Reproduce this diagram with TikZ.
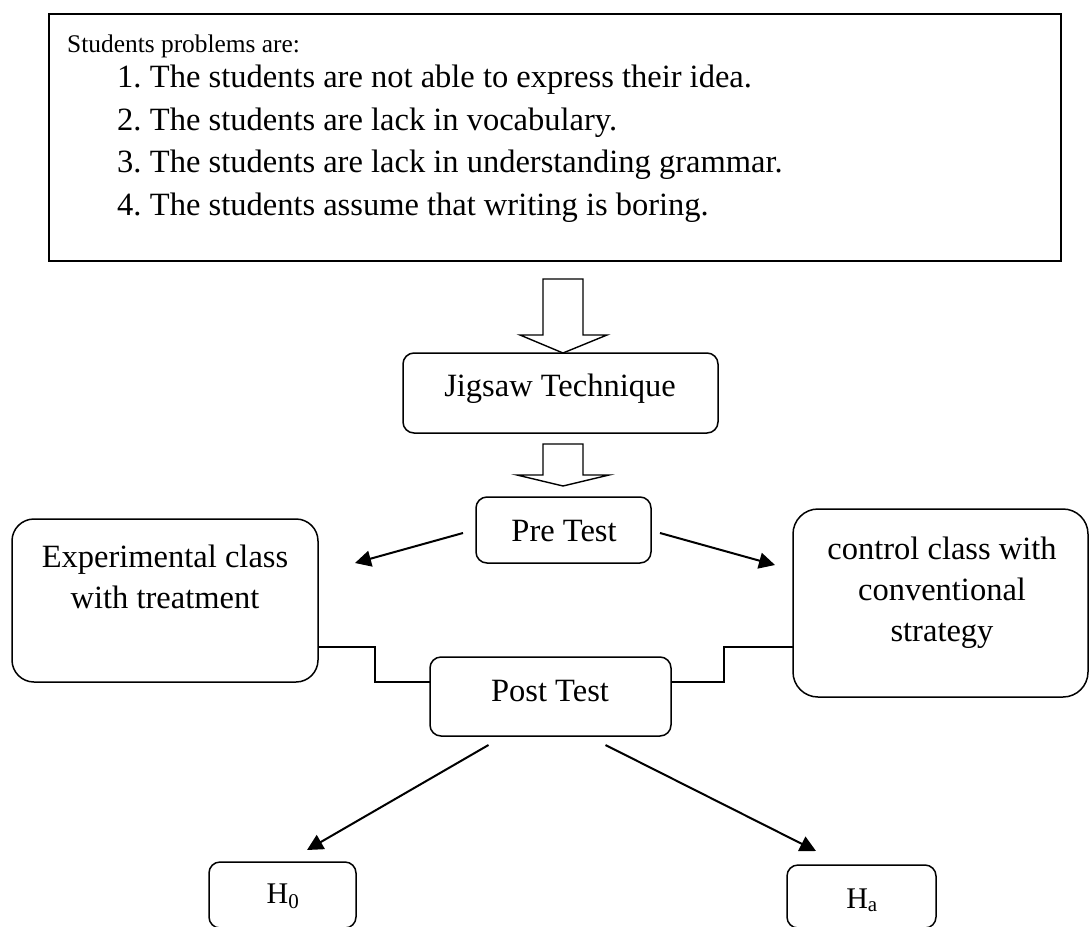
\documentclass[tikz,border=0pt]{standalone}
\usepackage{fontspec}
\setmainfont{Liberation Serif}
\usetikzlibrary{arrows.meta,calc}
\begin{document}
\begin{tikzpicture}[x=1pt,y=-1pt,
  box/.style={draw,line width=1.5pt,inner sep=0pt,outer sep=0pt},
  rbox/.style={box,rounded corners=#1},
  rbox/.default=11pt,
  txt/.style={inner sep=0pt,outer sep=0pt,anchor=base,font=\fontsize{32.5}{41}\selectfont},
  sub/.style={inner sep=0pt,outer sep=0pt,anchor=base,font=\fontsize{30}{34}\selectfont},
  arr/.style={line width=2pt,-{Triangle[length=16pt,width=16pt]}},
  link/.style={line width=1.4pt},
  blockarr/.style={line width=1.4pt,line join=miter}]
\useasboundingbox (0,0) rectangle (1089,926);
\clip (0,0) rectangle (1089,926);

% top box
\node[box,minimum width=1012pt,minimum height=247pt] (top) at (555,137.5) {};
\node[inner sep=0pt,anchor=base west,font=\fontsize{25.4}{30}\selectfont] (hdr) at (67,52) {Students problems are:};
\node[txt,anchor=base west] (i1) at (117,87) {\makebox[33pt][l]{1.}The students are not able to express their idea.};
\node[txt,anchor=base west] (i2) at (117,130) {\makebox[33pt][l]{2.}The students are lack in vocabulary.};
\node[txt,anchor=base west] (i3) at (117,172.5) {\makebox[33pt][l]{3.}The students are lack in understanding grammar.};
\node[txt,anchor=base west] (i4) at (117,215) {\makebox[33pt][l]{4.}The students assume that writing is boring.};

% boxes
\node[rbox,minimum width=315pt,minimum height=80pt] (jig) at (560.5,393) {};
\node[txt] (jigt) at (560,396) {Jigsaw Technique};

\node[rbox,minimum width=175pt,minimum height=66pt] (pre) at (563.5,530) {};
\node[txt] (pret) at (564,541) {Pre Test};

\node[rbox=22pt,minimum width=306pt,minimum height=163pt] (exp) at (165,600.5) {};
\node[txt] (expt1) at (165,567) {Experimental class};
\node[txt] (expt2) at (165,608) {with treatment};

\node[rbox=25pt,minimum width=295pt,minimum height=188pt] (ctrl) at (940.5,603) {};
\node[txt] (ctrlt1) at (942,559) {control class with};
\node[txt] (ctrlt2) at (942,600) {conventional};
\node[txt] (ctrlt3) at (942,641) {strategy};

\node[rbox,minimum width=241pt,minimum height=79pt] (post) at (550.5,696.5) {};
\node[txt] (postt) at (550,701) {Post Test};

\node[rbox,minimum width=147pt,minimum height=66pt] (h0) at (282.5,895) {};
\node[sub] (h0t) at (283,903) {H\textsubscript{0}};

\node[rbox,minimum width=149pt,minimum height=63pt] (ha) at (861.5,896.5) {};
\node[sub] (hat) at (862,908) {H\textsubscript{a}};

% block arrows
\draw[blockarr] (543,279) -- (583,279) -- (583,335) -- (607,335) -- (jig.north -| 563,0) -- (520,335) -- (543,335) -- cycle;
\draw[blockarr] (543,444) -- (583,444) -- (583,475) -- (609,475) -- (563,486) -- (517,475) -- (543,475) -- cycle;

% arrows
\draw[arr] ([xshift=-13pt,yshift=-3pt]pre.west) -- (355,563);
\draw[arr] ([xshift=9pt,yshift=-3pt]pre.east) -- (775,565);
\draw[arr] ([xshift=-62pt,yshift=-9pt]post.south) -- (307,850);
\draw[arr] ([xshift=55pt,yshift=-9pt]post.south) -- (816,851);

% step links
\draw[link] (exp.east |- 0,647) -- (375,647) -- (375,682) -- (post.west |- 0,682);
\draw[link] (post.east |- 0,682) -- (724,682) -- (724,647) -- (ctrl.west |- 0,647);
\end{tikzpicture}
\end{document}
